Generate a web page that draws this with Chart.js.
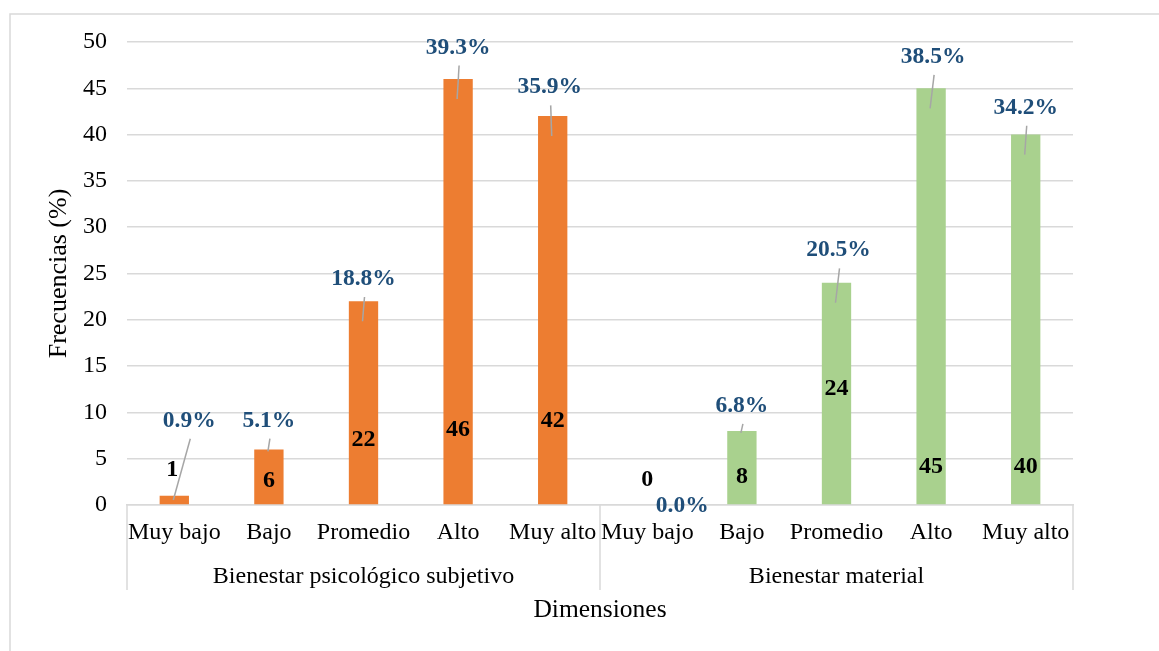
<!DOCTYPE html>
<html>
<head>
<meta charset="utf-8">
<script src="https://cdn.jsdelivr.net/npm/chart.js@4"></script>
<style>
  html, body { margin: 0; padding: 0; background: #fff; }
  #wrap { position: relative; width: 1159px; height: 651px; }
</style>
</head>
<body>
<div id="wrap"><canvas id="chart" width="1159" height="651"></canvas></div>
<script>
// ---- data ----
const categories = ["Muy bajo", "Bajo", "Promedio", "Alto", "Muy alto",
                    "Muy bajo", "Bajo", "Promedio", "Alto", "Muy alto"];
const groups = ["Bienestar psicológico subjetivo", "Bienestar material"];
const frequencies = [1, 6, 22, 46, 42, 0, 8, 24, 45, 40];
const percentLabels = ["0.9%", "5.1%", "18.8%", "39.3%", "35.9%",
                       "0.0%", "6.8%", "20.5%", "38.5%", "34.2%"];
const yTicks = [0, 5, 10, 15, 20, 25, 30, 35, 40, 45, 50];

const ORANGE = "#ED7D31";
const GREEN = "#A9D18E";
const GRID = "#d9d9d9";
const FONT = "'Liberation Serif', 'Times New Roman', serif";

// labels + leader lines, placed like the Excel original (y in axis units)
const labelsPlugin = {
  id: "barLabels",
  afterDatasetsDraw(chart, args, opts){
    const {ctx} = chart;
    const meta = chart.getDatasetMeta(0);
    const y = chart.scales.y;
    ctx.save();
    ctx.textAlign = "center";
    ctx.textBaseline = "middle";
    meta.data.forEach((bar, i) => {
      // value inside/near the bar
      ctx.font = "bold 24px " + FONT;
      ctx.fillStyle = "#000";
      ctx.fillText(String(frequencies[i]), bar.x + opts.valueDx[i], y.getPixelForValue(opts.valueAt[i]));

      // percentage above with leader line
      const px = bar.x + opts.pctDx[i];
      const py = y.getPixelForValue(opts.pctAt[i]);
      if (opts.leader[i]){
        const h = bar.base - bar.y;
        const depth = h > 100 ? 20 : (h > 20 ? 2 : h / 2);
        ctx.strokeStyle = "#a6a6a6";
        ctx.lineWidth = 1.5;
        ctx.beginPath();
        ctx.moveTo(px + 1, py + 18);
        ctx.lineTo(bar.x - 1, bar.y + depth);
        ctx.stroke();
      }
      ctx.font = "bold 23.5px " + FONT;
      ctx.fillStyle = "#1F4E79";
      ctx.fillText(percentLabels[i], px, py);
    });
    ctx.restore();
  }
};

// group row under the categories + outer frame
const groupsPlugin = {
  id: "groupAxis",
  beforeDraw(chart){
    const {ctx} = chart;
    ctx.save();
    ctx.strokeStyle = GRID;
    ctx.lineWidth = 1.5;
    ctx.strokeRect(10, 14, 1200, 700);
    ctx.restore();
  },
  afterDraw(chart){
    const {ctx} = chart;
    const x = chart.scales.x;
    const top = chart.chartArea.bottom;
    const half = (x.getPixelForValue(1) - x.getPixelForValue(0)) / 2;
    const edges = [x.getPixelForValue(0) - half, x.getPixelForValue(5) - half, x.getPixelForValue(9) + half];
    ctx.save();
    ctx.strokeStyle = GRID;
    ctx.lineWidth = 1.5;
    edges.forEach(e => {
      ctx.beginPath();
      ctx.moveTo(e, top);
      ctx.lineTo(e, top + 85);
      ctx.stroke();
    });
    ctx.font = "24px " + FONT;
    ctx.fillStyle = "#000";
    ctx.textAlign = "center";
    ctx.textBaseline = "middle";
    groups.forEach((g, k) => {
      ctx.fillText(g, (edges[k] + edges[k + 1]) / 2, top + 72);
    });
    ctx.restore();
  }
};

new Chart(document.getElementById("chart"), {
  type: "bar",
  data: {
    labels: categories,
    datasets: [{
      data: frequencies,
      backgroundColor: frequencies.map((v, i) => i < 5 ? ORANGE : GREEN),
      barPercentage: 0.31,
      categoryPercentage: 1.0
    }]
  },
  options: {
    responsive: false,
    animation: false,
    layout: { padding: { left: 0, right: 86, top: 42, bottom: 0 } },
    plugins: {
      legend: { display: false },
      tooltip: { enabled: false },
      barLabels: {
        valueAt: [3.8, 2.6, 7.0, 8.1, 9.1, 2.7, 3.0, 12.6, 4.1, 4.1],
        valueDx: [-2, 0, 0, 0, 0, 0, 0, 0, 0, 0],
        pctAt:   [9.1, 9.1, 24.4, 49.4, 45.1, -0.1, 10.7, 27.5, 48.4, 42.9],
        pctDx:   [15, 0, 0, 0, -3, 35, 0, 2, 2, 0],
        leader:  [true, true, true, true, true, false, true, true, true, true]
      }
    },
    scales: {
      x: {
        grid: { display: false, drawTicks: false },
        border: { display: true, color: GRID, width: 1.5 },
        ticks: { color: "#000", font: { family: FONT, size: 24 }, padding: 13, maxRotation: 0, autoSkip: false },
        title: { display: true, text: "Dimensiones", color: "#000",
                 font: { family: FONT, size: 25.5 }, padding: { top: 0, bottom: 25 } },
        afterFit: s => { s.height = 146; }
      },
      y: {
        min: 0, max: 50,
        afterBuildTicks: s => { s.ticks = yTicks.map(v => ({ value: v })); },
        grid: { color: GRID, lineWidth: 1.5, drawTicks: false },
        border: { display: false },
        ticks: { color: "#000", font: { family: FONT, size: 24 }, padding: 20 },
        title: { display: true, text: "Frecuencias (%)", color: "#000",
                 font: { family: FONT, size: 26 }, padding: { top: 44, bottom: 0 } },
        afterFit: s => { s.width = 127; }
      }
    }
  },
  plugins: [labelsPlugin, groupsPlugin]
});
</script>
</body>
</html>
